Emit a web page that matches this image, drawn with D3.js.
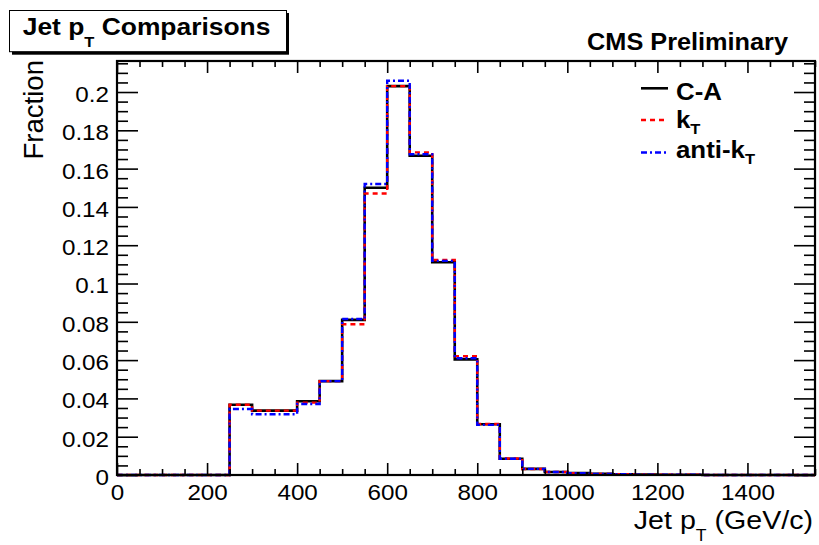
<!DOCTYPE html>
<html>
<head>
<meta charset="utf-8">
<script src="https://cdn.jsdelivr.net/npm/d3@7"></script>
<style>
  html, body { margin: 0; padding: 0; background: #fff; }
  svg { display: block; }
  text { font-family: "Liberation Sans", Arial, Helvetica, sans-serif; fill: #000; }
</style>
</head>
<body>
<svg id="chart" width="819" height="545"></svg>
<script>
// ---------------- data ----------------
const binEdges = d3.range(0, 1551, 50);          // 31 bins of 50 GeV/c, 0..1550
const caValues = [0, 0, 0, 0, 0, 0.0367, 0.0336, 0.0336, 0.0385, 0.0490, 0.0810, 0.1500, 0.2031, 0.1667, 0.1111, 0.0604, 0.0265, 0.0085, 0.0032, 0.0016, 0.0010, 0.0006, 0.0004, 0.0002, 0.0001, 0.0001, 0, 0, 0, 0, 0];
const ktValues = [0, 0, 0, 0, 0, 0.0367, 0.0336, 0.0336, 0.0378, 0.0490, 0.0787, 0.1470, 0.2031, 0.1685, 0.1123, 0.0620, 0.0266, 0.0086, 0.0031, 0.0016, 0.0010, 0.0006, 0.0004, 0.0002, 0.0001, 0.0001, 0, 0, 0, 0, 0];
const antiKtValues = [0, 0, 0, 0, 0, 0.0345, 0.0317, 0.0317, 0.0371, 0.0490, 0.0815, 0.1520, 0.2059, 0.1675, 0.1118, 0.0610, 0.0262, 0.0085, 0.0032, 0.0016, 0.0010, 0.0006, 0.0004, 0.0002, 0.0001, 0.0001, 0, 0, 0, 0, 0];
const seriesNames = ["C-A", "kT", "anti-kT"];
const xMajorTicks = [0, 200, 400, 600, 800, 1000, 1200, 1400];
const xTickLabels = ["0", "200", "400", "600", "800", "1000", "1200", "1400"];
const yMajorTicks = [0, 0.02, 0.04, 0.06, 0.08, 0.1, 0.12, 0.14, 0.16, 0.18, 0.2];
const yTickLabels = ["0", "0.02", "0.04", "0.06", "0.08", "0.1", "0.12", "0.14", "0.16", "0.18", "0.2"];
const xMinorTicks = d3.range(0, 1551, 50);
const yMinorTicks = d3.range(0, 0.2151, 0.005);
const xDomain = [0, 1550];
const yDomain = [0, 0.2162];

// ---------------- layout / style ----------------
const SX = 1.1;   // horizontal text stretch of the reference rendering
const plot = { left: 117, right: 815, top: 61, bottom: 475 };
const styles = [
  { color: "#000000", dash: null,      width: 2.6 },
  { color: "#ff0000", dash: "5,4",     width: 2.4 },
  { color: "#0000ff", dash: "6,3,2,3", width: 2.4 }
];

const svg = d3.select("#chart");
svg.append("rect").attr("width", 819).attr("height", 545).attr("fill", "#fff");

const x = d3.scaleLinear().domain(xDomain).range([plot.left, plot.right]);
const y = d3.scaleLinear().domain(yDomain).range([plot.bottom, plot.top]);

function stext(parent, tx, ty, anchor, size, weight) {
  const g = parent.append("g").attr("transform", `translate(${tx},${ty}) scale(${SX},1)`);
  return g.append("text").attr("text-anchor", anchor)
    .style("font-size", size + "px").style("font-weight", weight || "normal");
}

// ---------------- histograms ----------------
const seriesValues = [caValues, ktValues, antiKtValues];
const line = d3.line().x(d => x(d[0])).y(d => y(d[1])).curve(d3.curveStepAfter);
seriesValues.forEach((vals, i) => {
  const pts = vals.map((v, k) => [binEdges[k], v]);
  pts.push([binEdges[vals.length], vals[vals.length - 1]]);
  const st = styles[i];
  svg.append("path").datum(pts)
    .attr("d", line)
    .attr("fill", "none")
    .attr("stroke", st.color)
    .attr("stroke-width", st.width)
    .attr("stroke-dasharray", st.dash)
    .attr("stroke-linejoin", "miter");
});

// ---------------- axes ----------------
function styleAxis(g) {
  g.select(".domain").remove();
  g.selectAll(".tick line").attr("stroke", "#000").attr("stroke-width", 1.6);
}
const fmtX = (d) => xTickLabels[xMajorTicks.indexOf(d)];
const fmtY = (d) => yTickLabels[yMajorTicks.indexOf(d)];

// bottom
svg.append("g").attr("transform", `translate(0,${plot.bottom})`)
  .call(d3.axisBottom(x).tickValues(xMinorTicks.filter(v => !xMajorTicks.includes(v))).tickSize(-6).tickSizeOuter(0).tickFormat(""))
  .call(styleAxis);
const xb = svg.append("g").attr("transform", `translate(0,${plot.bottom})`)
  .call(d3.axisBottom(x).tickValues(xMajorTicks).tickSize(-12).tickSizeOuter(0).tickPadding(9).tickFormat(fmtX))
  .call(styleAxis);
xb.selectAll(".tick text").style("font-size", "22px").attr("font-family", null)
  .attr("transform", `scale(${SX},1)`);

// top
svg.append("g").attr("transform", `translate(0,${plot.top})`)
  .call(d3.axisTop(x).tickValues(xMinorTicks.filter(v => !xMajorTicks.includes(v))).tickSize(-6).tickSizeOuter(0).tickFormat(""))
  .call(styleAxis);
svg.append("g").attr("transform", `translate(0,${plot.top})`)
  .call(d3.axisTop(x).tickValues(xMajorTicks).tickSize(-12).tickSizeOuter(0).tickFormat(""))
  .call(styleAxis);

// left
const yMinorOnly = yMinorTicks.filter(v => !yMajorTicks.some(m => Math.abs(m - v) < 1e-9));
svg.append("g").attr("transform", `translate(${plot.left},0)`)
  .call(d3.axisLeft(y).tickValues(yMinorOnly).tickSize(-11).tickSizeOuter(0).tickFormat(""))
  .call(styleAxis);
const yl = svg.append("g").attr("transform", `translate(${plot.left},0)`)
  .call(d3.axisLeft(y).tickValues(yMajorTicks).tickSize(-21).tickSizeOuter(0).tickPadding(8).tickFormat(fmtY))
  .call(styleAxis);
yl.selectAll(".tick text").style("font-size", "22px").attr("font-family", null)
  .attr("x", -8 / SX).attr("dy", "0.43em")
  .attr("transform", `scale(${SX},1)`);

// right
svg.append("g").attr("transform", `translate(${plot.right},0)`)
  .call(d3.axisRight(y).tickValues(yMinorOnly).tickSize(-11).tickSizeOuter(0).tickFormat(""))
  .call(styleAxis);
svg.append("g").attr("transform", `translate(${plot.right},0)`)
  .call(d3.axisRight(y).tickValues(yMajorTicks).tickSize(-21).tickSizeOuter(0).tickFormat(""))
  .call(styleAxis);

// frame
svg.append("rect")
  .attr("x", plot.left).attr("y", plot.top)
  .attr("width", plot.right - plot.left).attr("height", plot.bottom - plot.top)
  .attr("fill", "none").attr("stroke", "#000").attr("stroke-width", 2.2);

// ---------------- axis titles ----------------
const xt = stext(svg, 813, 529, "end", 26, "normal");
xt.append("tspan").text("Jet p");
xt.append("tspan").attr("dy", 12).style("font-size", "16px").text("T");
xt.append("tspan").attr("dy", -12).text(" (GeV/c)");

svg.append("g").attr("transform", "translate(43,60) rotate(-90) scale(1.02,1)")
  .append("text").attr("text-anchor", "end").style("font-size", "27px").text("Fraction");

// ---------------- title box ----------------
svg.append("rect").attr("x", 12).attr("y", 13).attr("width", 277).attr("height", 41.7).attr("fill", "#000");
svg.append("rect").attr("x", 9.5).attr("y", 10.5).attr("width", 277).attr("height", 41.2)
  .attr("fill", "#fff").attr("stroke", "#000").attr("stroke-width", 1);
const tt = stext(svg, 22.7, 35, "start", 24, "bold");
tt.append("tspan").text("Jet p");
tt.append("tspan").attr("dy", 12).style("font-size", "15px").text("T");
tt.append("tspan").attr("dy", -12).text(" Comparisons");

// CMS Preliminary
stext(svg, 788, 50, "end", 23, "bold").text("CMS Preliminary");

// ---------------- legend ----------------
const legendRowY = [88.3, 120, 152.5];
const legendBaseline = [100, 127.5, 158];
const legend = svg.append("g");
seriesNames.forEach((name, i) => {
  const st = styles[i];
  legend.append("line")
    .attr("x1", 641).attr("x2", 668)
    .attr("y1", legendRowY[i]).attr("y2", legendRowY[i])
    .attr("stroke", st.color).attr("stroke-width", st.width)
    .attr("stroke-dasharray", st.dash);
  const t = stext(legend, 676, legendBaseline[i], "start", 23.5, "bold");
  if (name.endsWith("kT")) {
    t.append("tspan").text(name.slice(0, -1));
    t.append("tspan").attr("dy", 6).style("font-size", "15px").text("T");
  } else {
    t.text(name);
  }
});
</script>
</body>
</html>
